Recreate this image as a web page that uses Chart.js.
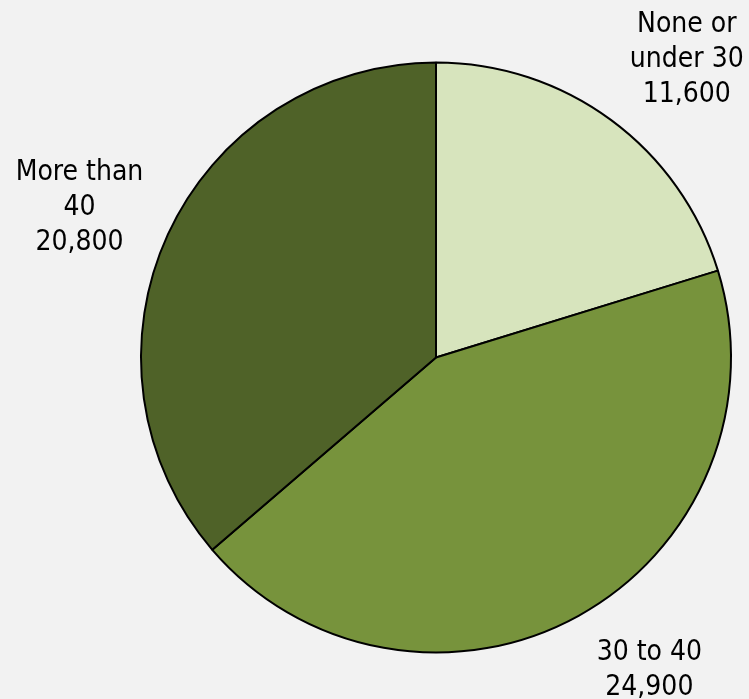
<!DOCTYPE html>
<html>
<head>
<meta charset="utf-8">
<script src="https://cdn.jsdelivr.net/npm/chart.js@4"></script>
<style>
  html, body { margin: 0; padding: 0; background: #f2f2f2; }
  #wrap { width: 749px; height: 699px; position: relative; }
</style>
</head>
<body>
<div id="wrap"><canvas id="pie"></canvas></div>
<script>
// ─── Data ───────────────────────────────────────────────────────────────────
const categories  = [['None or', 'under 30'], ['30 to 40'], ['More than', '40']];
const counts      = [11600, 24900, 20800];
const sliceColors = ['#d7e4bd', '#77933c', '#4f6228'];

// label nudges from the mid-angle anchor, per slice
const labelNudge = [{ dx: 23, dy: 8 }, { dx: 28, dy: -26 }, { dx: -8, dy: 8 }];

const fmt = n => n.toLocaleString('en-US');

// ─── Outside-end labels ─────────────────────────────────────────────────────
const outsideLabels = {
  id: 'outsideLabels',
  afterDatasetsDraw(chart) {
    const ctx  = chart.ctx;
    const meta = chart.getDatasetMeta(0);
    const lineH = 35;
    ctx.save();
    ctx.fillStyle = '#000';
    ctx.font = '28px "DejaVu Sans Condensed", "DejaVu Sans", sans-serif';
    ctx.textAlign = 'center';
    ctx.textBaseline = 'alphabetic';
    meta.data.forEach((arc, i) => {
      const { x, y, startAngle, endAngle, outerRadius } = arc.getProps(['x', 'y', 'startAngle', 'endAngle', 'outerRadius'], true);
      const mid = (startAngle + endAngle) / 2;
      const cx = x + Math.cos(mid) * outerRadius * 1.3 + labelNudge[i].dx;
      const cy = y + Math.sin(mid) * outerRadius * 1.3 + labelNudge[i].dy;
      const lines = [...categories[i], fmt(counts[i])];
      const first = cy - (lines.length - 1) * lineH / 2 + 10;
      lines.forEach((t, k) => ctx.fillText(t, cx, first + k * lineH));
    });
    ctx.restore();
  }
};

// ─── Chart ──────────────────────────────────────────────────────────────────
new Chart(document.getElementById('pie'), {
  type: 'pie',
  data: {
    labels: categories.map(c => c.join(' ')),
    datasets: [{
      data: counts,
      backgroundColor: sliceColors,
      borderColor: '#000',
      borderWidth: 2,
    }]
  },
  options: {
    responsive: true,
    maintainAspectRatio: false,
    animation: false,
    layout: { padding: { left: 140, right: 17, top: 61.5, bottom: 45.5 } },
    plugins: { legend: { display: false }, tooltip: { enabled: false } }
  },
  plugins: [outsideLabels]
});
</script>
</body>
</html>
